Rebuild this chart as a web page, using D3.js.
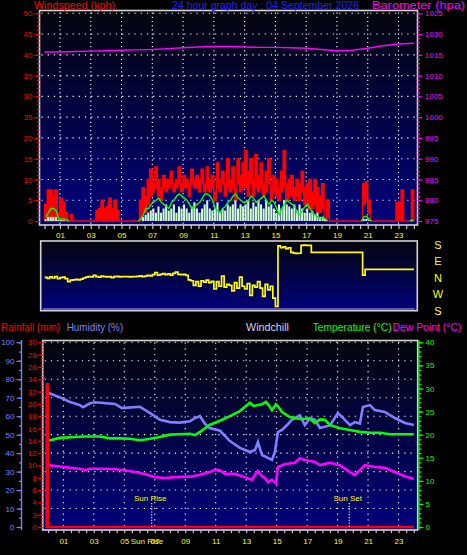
<!DOCTYPE html>
<html><head><meta charset="utf-8">
<script src="https://cdn.jsdelivr.net/npm/d3@7"></script>
<style>
body{margin:0;background:#000;}
svg{display:block;font-family:"Liberation Sans",Arial,sans-serif;}
</style>
</head><body>
<svg id="c" width="467" height="555"></svg>
<script>
// ---------------- DATA ----------------
const titleText = "24 hour graph day : 04 September 2026";
const hourLabels = ["01","03","05","07","09","11","13","15","17","19","21","23"];
const hourLabelValues = [1,3,5,7,9,11,13,15,17,19,21,23];

// wind speed axis (kph) – labels as printed on the chart
const windTicks = [0,5,10,15,20,25,30,35,40,45,50];
const windTickLabels = ["0","5","10","15","20","35","30","35","40","45","50"];
// barometer axis (hpa)
const baroTicks = [975,980,985,990,995,1000,1005,1010,1015,1020,1025];
const baroTickLabels = ["975","980","985","990","995","1000","1005","1010","1015","1030","1025"];

// wind, 10-minute samples (6 per hour, 24 hours)
const windGustHigh = [
 4,7.5,7.5,6,7.5,2,  5.5,4.5,2,0,1.5,0,  0,0,0,0,0,0,  0,0,2.5,3,5,3,
 3.5,5.5,3,5,2.5,0,  0,0,0,0,0,0,  0,5,8,6,10,12.5,  9,13,10,8,11,10,
 10,12,9,10,13,9,  11,10,9,12.5,10,11,  10,12.5,9,13,10,11,  7,14,10,12,9,15,
 10,13,8,15,11,14,  17,12,15,10,16,11,  14,9,12,15,8,11,  10,8,12,17,9,10,
 11,8,10,9,12,8,  9,10,7,10,8,6,  9,0,5,0,0,0,  0,0,0,0,0,0,
 0,0,0,0,9,9.5,  5,0,0,0,0,0,  0,0,0,0,0,4.5,  4.5,7.5,0,0,0,7.5];
const windGustLow = [
 0,0,0,0,0,0,  0,0,0,0,0,0,  0,0,0,0,0,0,  0,0,0,0,0,0,
 0,0,0,0,0,0,  0,0,0,0,0,0,  0,0,2,2,4,6,  7,8,6,5,8,7,
 8,9,7,8,9,7,  8,8,6,9,8,8,  7,9,7,8,7,8,  5,8,7,9,6,8,
 7,8,5,9,7,8,  8,6,9,6,8,7,  8,6,7,9,5,7,  6,5,7,8,5,6,
 6,5,6,5,7,4,  4,3,3,4,2,2,  3,0,1,0,0,0,  0,0,0,0,0,0,
 0,0,0,0,4,5,  2,0,0,0,0,0,  0,0,0,0,0,0,  0,0,0,0,0,0];
const windSpeed = [
 0.5,1,1,1,1,0.3,  0.3,0.2,0,0,0,0,  0,0,0,0,0,0,  0,0,0,0,0,0,
 0,0,0,0,0,0,  0,0,0,0,0,0,  0,0,1,1.5,2,2.5,  3,2,3.5,2,3,4,
 2.5,3,4,2,3.5,3,  4,3,2,3.5,4.5,3,  2,3,4,5,3,2.5,  3,4.5,2,3,2.5,4,
 3.5,4,5,3,4,3.5,  4,5,3,4.5,3.5,5,  4,3,5,3.5,4,3,  2,4,3,5,4,3.5,
 3,4,2.5,4,3,2,  3,2,2.5,1.5,2,1,  1,0.5,0,0,0,0,  0,0,0,0,0,0,
 0,0,0,0,0.5,0.5,  0.3,0,0,0,0,0,  0,0,0,0,0,0,  0,0,0,0,0,0.2];
const windAverage = [
 1,2,3,3,2.5,0.5,  0.5,0.5,0.3,0,0,0,  0,0,0,0,0,0,  0,0,0,0,0,0,
 0,0,0,0,0,0,  0,0,0,0,0,0,  0,0.5,1.5,3,3,4,  4.5,5,5.5,4.5,4,3.5,
 3,4.5,5,6,6.5,6,  5.5,5,4,3,3.5,4,  4.5,5.5,6.5,6.5,6,5,  3,2.5,2,3,3.5,4.5,
 5,6,6.5,5.5,5,4.5,  4.5,5,6,5.5,4.5,5,  5.5,6,5,4,5,4.5,  3,1.5,3,4,5,4.5,
 4,3.5,2,1.5,2.5,3.5,  4,3,2,1.5,1,0.5,  1,0.5,0,0,0,0,  0,0,0,0,0,0,
 0,0,0,0,1,1.2,  0.5,0,0,0,0,0,  0,0,0,0,0,0,  0,0,0,0,0,0.3];

// wind direction, 10-minute samples, degrees (N=0, E=90, S=±180, W=-90)
const windDirection = [
 3,-2,6,0,8,-4,  2,5,-3,-20,-12,-10,  -8,-10,-6,0,5,8,  6,14,8,4,10,7,
 6,8,2,7,9,6,  7,8,7,6,8,7,  9,12,8,10,14,12,  18,30,15,20,24,18,
 22,16,25,32,20,18,  20,14,-10,-15,-40,-20,  -45,-15,-22,-12,-25,-18,  -60,-20,-45,10,-50,-35,
 -40,-70,-25,-55,5,-45,  -60,-30,-95,-40,-50,-20,  -55,-100,-35,-65,-45,-110,  -155,175,165,170,160,165,
 140,136,134,135,178,179,  178,178,140,140,140,140,  140,140,140,140,140,140,  140,140,140,140,140,140,
 140,140,140,140,16,47,  47,47,47,47,47,47,  47,47,47,47,47,47,  47,47,47,47,47,47];
const dirLabels = ["S","E","N","W","S"];
const dirLabelValues = [180,90,0,-90,-180];

// barometer, hourly (hpa)
const baroHours = [0,1,2,3,4,5,6,7,8,9,10,11,12,13,14,15,16,17,18,19,20,21,22,23,24];
const baroValues = [1015.7,1015.7,1015.8,1015.9,1016.0,1016.1,1016.2,1016.3,1016.5,1016.7,1016.9,1017.0,
 1017.0,1016.9,1016.8,1016.8,1016.7,1016.6,1016.3,1016.0,1016.1,1016.6,1017.2,1017.6,1017.8];

// bottom chart axes
const humTicks = [0,10,20,30,40,50,60,70,80,90,100];
const rainTicks = [0,2,4,6,8,10,12,14,16,18,20,22,24,26,28,30];
const rainTickLabels = ["0","3","4","6","8","10","12","14","16","18","20","32","34","26","28","30"];
const tempTicks = [0,5,10,15,20,25,30,35,40];

// humidity (%)
const humHours = [0,0.78,1.44,2.09,2.29,2.75,3.08,4.39,4.85,6.03,6.69,7.34,8.0,8.65,9.31,9.64,9.97,10.3,10.6,11.28,
 11.93,12.59,13.25,13.58,13.77,14.04,14.43,14.69,14.89,15.08,15.35,15.68,16.0,16.52,16.85,17.2,17.51,17.84,18.5,
 19.02,19.48,19.81,20.13,20.46,20.66,21.12,21.45,22.1,22.76,23.42,24];
const humValues = [72.7,70.2,67.7,66,64.8,67,67.5,66.6,64.4,65.1,61.7,58,56.8,56.5,57.2,59,60,55.8,53.6,52.1,
 46.5,42.8,40.6,41.7,46,39,37.4,36.3,40.8,51.4,52.5,55.2,58,60.5,55.2,59,58,53.6,55,
 61.7,58,55.2,56.8,56,65,66,63.3,62.3,59,56.3,55.2];

// temperature (°C)
const tempHours = [0,0.78,1.77,2.42,3.4,4.06,4.72,5.37,6.03,6.69,7.34,8.0,8.65,9.31,9.64,9.97,10.3,10.6,11.28,11.93,
 12.59,12.9,13.25,13.5,13.77,14.04,14.3,14.5,14.69,14.95,15.08,15.35,15.87,16.52,17.18,17.51,17.84,18.16,18.5,
 19.15,19.81,20.46,21.12,21.78,22.43,23.09,24];
const tempValues = [18.7,19.3,19.5,19.6,19.6,19.2,19.2,19.1,18.8,19.1,19.5,20,20.1,20.2,19.9,20.6,21.4,22.1,23,24,
 25.1,26,26.9,26.2,26.4,26.6,27.1,26.3,25.3,26.6,26.2,24.9,23.8,23.4,23.5,22.5,23.3,23.2,22.1,
 21.4,21,20.6,20.4,20.4,20.1,20.1,20.1];

// dew point (°C)
const dewHours = [0,0.78,1.44,2.09,2.42,2.75,3.4,4.39,5.05,5.7,6.36,7.01,7.67,8.33,9.31,9.97,10.62,10.95,11.28,11.61,
 12.27,12.92,13.38,13.58,13.77,14.04,14.23,14.43,14.69,14.95,15.08,15.54,16.19,16.52,16.85,17.51,17.84,18.5,19.15,
 19.81,20.13,20.46,20.79,21.45,22.1,22.76,23.42,24];
const dewValues = [13.4,13.1,12.8,12.6,12.3,12.6,12.6,12.5,12.3,11.9,11.5,10.8,10.6,10.8,10.9,11.3,11.9,12.4,12.3,11.5,
 11.5,10.8,10.2,11.3,12.1,11,10.6,9.7,10.2,9.5,13,13.6,13.9,14.9,14.5,14.1,13.4,13.9,13.4,
 11.9,11.3,12.3,13.4,13,12.8,11.9,11,10.4];

// rainfall (mm)
const rainHours = [-0.1,0,24];
const rainValues = [23.2,0,0];

// sun events
const sunHours = [6.8,19.76];
const sunLabels = ["Sun Rise","Sun Set"];

// ---------------- DRAWING ----------------
const svg = d3.select("#c");
svg.append("rect").attr("width",467).attr("height",555).attr("fill","#000");
const defs = svg.append("defs");
const g1 = defs.append("linearGradient").attr("id","bg").attr("x1",0).attr("y1",0).attr("x2",0).attr("y2",1);
g1.append("stop").attr("offset","0%").attr("stop-color","#05050d");
g1.append("stop").attr("offset","100%").attr("stop-color","#00007c");

const FRAME = "#d4d4d4";
const AX = 8;   // axis font size

function panel(x0,y0,x1,y1,id){
  defs.append("clipPath").attr("id",id).append("rect").attr("x",x0+1).attr("y",y0+1).attr("width",x1-x0-2).attr("height",y1-y0-2);
  svg.append("rect").attr("x",x0).attr("y",y0).attr("width",x1-x0).attr("height",y1-y0).attr("fill","url(#bg)");
}
function frame(x0,y0,x1,y1){
  svg.append("rect").attr("x",x0).attr("y",y0).attr("width",x1-x0).attr("height",y1-y0)
    .attr("fill","none").attr("stroke",FRAME).attr("stroke-width",1.6);
}
function styleAxis(sel,color,labelColor){
  sel.selectAll("line").attr("stroke",color).attr("stroke-width",1.2);
  sel.selectAll("path.domain").attr("stroke",color);
  sel.selectAll("text").attr("fill",labelColor||color).attr("font-size",AX).attr("font-family","Liberation Sans, Arial, sans-serif");
}
function header(x,y,w,color,txt){
  svg.append("text").attr("x",x).attr("y",y).attr("fill",color).attr("font-size",11)
    .attr("textLength",w).attr("lengthAdjust","spacingAndGlyphs").text(txt);
}

// ===== TOP CHART =====
const T = {x0:39.5,y0:10.5,x1:417.5,y1:225};
const xTop = d3.scaleLinear([0,24],[44.6,413.9]);
const yWind = d3.scaleLinear([0,50],[221,13.3]);
const yBaro = d3.scaleLinear([975,1025],[221,13.3]);
panel(T.x0,T.y0,T.x1,T.y1,"clipTop");

// grid
const gridTop = svg.append("g").attr("stroke","#fff").attr("stroke-width",1.1);
windTicks.filter(v=>v>0).forEach(v=>{
  gridTop.append("line").attr("x1",T.x0+2).attr("x2",T.x1-2).attr("y1",yWind(v)).attr("y2",yWind(v)).attr("stroke-dasharray","1.2,5");
});
hourLabelValues.forEach(h=>{
  gridTop.append("line").attr("x1",xTop(h)).attr("x2",xTop(h)).attr("y1",T.y0+2).attr("y2",T.y1-1).attr("stroke-dasharray","1.2,3");
});

const gTop = svg.append("g").attr("clip-path","url(#clipTop)");
const idx = d3.range(windGustHigh.length+1);
const stepH = 1/6;
const gustArea = d3.area()
  .x(i=>xTop(i*stepH))
  .y0(i=>yWind(windGustLow[Math.min(i,windGustLow.length-1)]))
  .y1(i=>yWind(windGustHigh[Math.min(i,windGustHigh.length-1)]))
  .curve(d3.curveStepAfter);
gTop.append("path").attr("d",gustArea(idx)).attr("fill","#ff0000").attr("stroke","#ff0000").attr("stroke-width",1.3);

const bw = xTop(stepH)-xTop(0);
const speedBars = windSpeed.map((v,i)=>({v,i})).filter(d=>d.v>0);
gTop.selectAll("rect.spd").data(speedBars).join("rect").attr("class","spd")
  .attr("x",d=>xTop(d.i*stepH)).attr("width",bw-0.5)
  .attr("y",d=>yWind(d.v)).attr("height",d=>yWind(0)-yWind(d.v))
  .attr("fill","#d0ffd0");

const avgLine = d3.line()
  .defined((d,i)=>d>0 || (windAverage[i-1]||0)>0 || (windAverage[i+1]||0)>0)
  .x((d,i)=>xTop(i*stepH+stepH/2)).y(d=>yWind(d)).curve(d3.curveLinear);
gTop.append("path").attr("d",avgLine(windAverage)).attr("fill","none").attr("stroke","#00ff00").attr("stroke-width",1.4);

const baroLine = d3.line().x((d,i)=>xTop(baroHours[i])).y(d=>yBaro(d));
gTop.append("path").attr("d",baroLine(baroValues)).attr("fill","none").attr("stroke","#ff00ff").attr("stroke-width",1.4);

frame(T.x0,T.y0,T.x1,T.y1);

// left axis (red)
const axL = svg.append("g").attr("transform",`translate(${T.x0},0)`)
  .call(d3.axisLeft(yWind).tickValues(d3.range(0,51,1)).tickSize(2.5).tickFormat(""));
axL.select(".domain").remove(); styleAxis(axL,"#ff0000");
const axL2 = svg.append("g").attr("transform",`translate(${T.x0},0)`)
  .call(d3.axisLeft(yWind).tickValues(windTicks).tickSize(5).tickPadding(2).tickFormat((d,i)=>windTickLabels[i]));
axL2.select(".domain").remove(); styleAxis(axL2,"#ff0000");
// right axis (magenta)
const axR = svg.append("g").attr("transform",`translate(${T.x1},0)`)
  .call(d3.axisRight(yBaro).tickValues(d3.range(975,1026,1)).tickSize(2.5).tickFormat(""));
axR.select(".domain").remove(); styleAxis(axR,"#ff00ff");
const axR2 = svg.append("g").attr("transform",`translate(${T.x1},0)`)
  .call(d3.axisRight(yBaro).tickValues(baroTicks).tickSize(5).tickPadding(2.5).tickFormat((d,i)=>baroTickLabels[i]));
axR2.select(".domain").remove(); styleAxis(axR2,"#ff00ff");
// bottom axis
const axB = svg.append("g").attr("transform",`translate(0,${T.y1})`)
  .call(d3.axisBottom(xTop).tickValues(d3.range(0,24.01,0.5)).tickSize(4).tickFormat(""));
axB.select(".domain").remove(); styleAxis(axB,"#c8c8c8");
const axB2 = svg.append("g").attr("transform",`translate(0,${T.y1})`)
  .call(d3.axisBottom(xTop).tickValues(hourLabelValues).tickSize(0).tickPadding(7).tickFormat((d,i)=>hourLabels[i]));
axB2.select(".domain").remove(); styleAxis(axB2,"#c8c8c8","#ffff00");

// headers
header(34,8.8,81,"#ff0000","Windspeed (kph)");
header(172,8.8,187,"#2020ff",titleText);
header(372,8.8,93,"#ff00ff","Barometer (hpa)");

// ===== MIDDLE (wind direction) =====
const M = {x0:40.7,y0:241,x1:417.3,y1:310.7};
const yDir = d3.scaleLinear([-180,180],[311,245]);
panel(M.x0,M.y0,M.x1,M.y1,"clipMid");
const gMid = svg.append("g").attr("clip-path","url(#clipMid)");
gMid.append("line").attr("x1",xTop(-0.1)).attr("x2",xTop(24.05)).attr("y1",309).attr("y2",309).attr("stroke","#b8b8ff").attr("stroke-width",1.2);
const dirLine = d3.line().x((d,i)=>xTop(i*stepH)).y(d=>yDir(d)).curve(d3.curveStepAfter);
gMid.append("path").attr("d",dirLine(windDirection.concat([windDirection[windDirection.length-1]])))
  .attr("fill","none").attr("stroke","#ffff00").attr("stroke-width",1.7);
frame(M.x0,M.y0,M.x1,M.y1);
svg.append("g").selectAll("text").data(dirLabels).join("text")
  .attr("x",438).attr("y",(d,i)=>yDir(dirLabelValues[i])).attr("dy","0.36em")
  .attr("text-anchor","middle").attr("fill","#ffff00").attr("font-size",11).text(d=>d);

// ===== BOTTOM CHART =====
const B = {x0:42.7,y0:340.5,x1:417.7,y1:530};
const xBot = d3.scaleLinear([0,24],[48.1,413.8]);
const yHum = d3.scaleLinear([0,100],[527,342.3]);
const yRain = d3.scaleLinear([0,30],[527,342.3]);
const yTemp = d3.scaleLinear([0,40],[527,342.3]);
panel(B.x0,B.y0,B.x1,B.y1,"clipBot");

const gridBot = svg.append("g").attr("stroke","#fff").attr("stroke-width",1.1);
humTicks.filter(v=>v>0).forEach(v=>{
  gridBot.append("line").attr("x1",B.x0+2).attr("x2",B.x1-2).attr("y1",yHum(v)).attr("y2",yHum(v)).attr("stroke-dasharray","1.2,5");
});
hourLabelValues.forEach(h=>{
  gridBot.append("line").attr("x1",xBot(h)).attr("x2",xBot(h)).attr("y1",B.y0+2).attr("y2",B.y1-1).attr("stroke-dasharray","1.2,4.5");
});

const gBot = svg.append("g").attr("clip-path","url(#clipBot)");
const mkLine = (hs,ys)=>d3.line().x((d,i)=>xBot(hs[i])).y(d=>ys(d));
gBot.append("path").attr("d",mkLine(humHours,yHum)(humValues)).attr("fill","none").attr("stroke","#8080ff").attr("stroke-width",2.6);
gBot.append("path").attr("d",mkLine(tempHours,yTemp)(tempValues)).attr("fill","none").attr("stroke","#00ff00").attr("stroke-width",2.6);
gBot.append("path").attr("d",mkLine(dewHours,yTemp)(dewValues)).attr("fill","none").attr("stroke","#ff00ff").attr("stroke-width",2.6);
const rainArea = d3.area().x((d,i)=>xBot(rainHours[i])).y0(yRain(0)).y1(d=>yRain(d)).curve(d3.curveStepAfter);
gBot.append("path").attr("d",rainArea(rainValues)).attr("fill","#ff0000").attr("stroke","#ff0000").attr("stroke-width",2.4);

// sun events
sunHours.forEach((h,i)=>{
  svg.append("line").attr("x1",xBot(h)).attr("x2",xBot(h)).attr("y1",503).attr("y2",527)
    .attr("stroke","#fff").attr("stroke-width",1.1).attr("stroke-dasharray","1.2,1.6");
  svg.append("text").attr("x",xBot(h)-1.5).attr("y",500.5).attr("text-anchor","middle")
    .attr("fill","#ffff00").attr("font-size",AX).text(sunLabels[i]);
});

frame(B.x0,B.y0,B.x1,B.y1);

// humidity axis
const axH = svg.append("g").attr("transform","translate(21.5,0)")
  .call(d3.axisLeft(yHum).tickValues(d3.range(0,101,5)).tickSize(2.5).tickSizeOuter(0).tickFormat(""));
styleAxis(axH,"#8080ff");
axH.select(".domain").attr("d","M0,340V530").attr("stroke-width",1.4);
const axH2 = svg.append("g").attr("transform","translate(21.5,0)")
  .call(d3.axisLeft(yHum).tickValues(humTicks).tickSize(5).tickPadding(2).tickFormat(d=>d));
axH2.select(".domain").remove(); styleAxis(axH2,"#8080ff");
// rain axis
const axRn = svg.append("g").attr("transform",`translate(${B.x0},0)`)
  .call(d3.axisLeft(yRain).tickValues(d3.range(0,30.01,0.5)).tickSize(2).tickFormat(""));
axRn.select(".domain").remove(); styleAxis(axRn,"#ff0000");
const axRn2 = svg.append("g").attr("transform",`translate(${B.x0},0)`)
  .call(d3.axisLeft(yRain).tickValues(rainTicks).tickSize(4.5).tickPadding(1.5).tickFormat((d,i)=>rainTickLabels[i]));
axRn2.select(".domain").remove(); styleAxis(axRn2,"#ff0000");
// temperature axis
const axT = svg.append("g").attr("transform","translate(419,0)")
  .call(d3.axisRight(yTemp).tickValues(d3.range(0,41,1)).tickSize(2.5).tickSizeOuter(0).tickFormat(""));
styleAxis(axT,"#00ff00");
axT.select(".domain").attr("d","M0,340V530").attr("stroke-width",1.2);
const axT2 = svg.append("g").attr("transform","translate(419,0)")
  .call(d3.axisRight(yTemp).tickValues(tempTicks).tickSize(4.5).tickPadding(2).tickFormat(d=>d));
axT2.select(".domain").remove(); styleAxis(axT2,"#00ff00");
// bottom x axis
const axX = svg.append("g").attr("transform",`translate(0,${B.y1})`)
  .call(d3.axisBottom(xBot).tickValues(d3.range(0,24.01,0.5)).tickSize(3).tickFormat(""));
axX.select(".domain").remove(); styleAxis(axX,"#c8c8c8");
const axX2 = svg.append("g").attr("transform",`translate(0,${B.y1})`)
  .call(d3.axisBottom(xBot).tickValues(hourLabelValues).tickSize(0).tickPadding(8).tickFormat((d,i)=>hourLabels[i]));
axX2.select(".domain").remove(); styleAxis(axX2,"#c8c8c8","#ffff00");
svg.append("text").attr("x",147).attr("y",544).attr("text-anchor","middle").attr("fill","#ffff00").attr("font-size",AX).text("Sun Rise");

// bottom headers
const hdrY = 330.5;
header(1,hdrY,59,"#ff0000","Rainfall (mm)");
header(66.7,hdrY,56.5,"#8080ff","Humidity (%)");
header(246,hdrY,43,"#d0d0ff","Windchill");
header(312.7,hdrY,79,"#00ff00","Temperature (°C)");
header(392.5,hdrY,69,"#ff00ff","Dew Point (°C)");
</script>
</body></html>
